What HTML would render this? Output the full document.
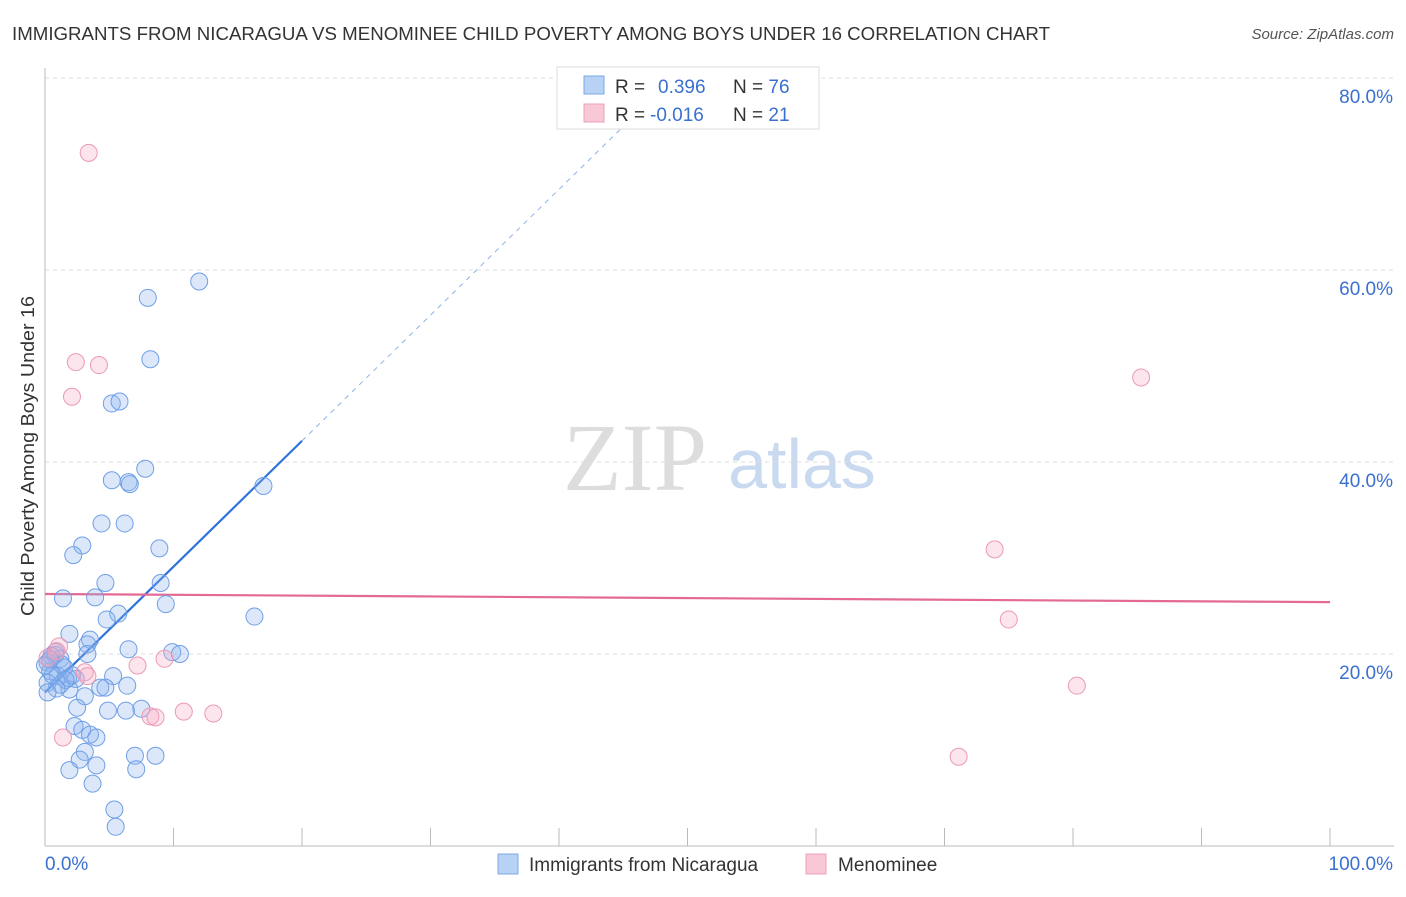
<!DOCTYPE html>
<html><head><meta charset="utf-8"><style>
body{margin:0;background:#fff;font-family:"Liberation Sans",sans-serif}
</style></head><body>
<svg id="chart" width="1406" height="892" xmlns="http://www.w3.org/2000/svg">
<text x="12" y="40" font-size="18" fill="#333" textLength="1038" lengthAdjust="spacingAndGlyphs">IMMIGRANTS FROM NICARAGUA VS MENOMINEE CHILD POVERTY AMONG BOYS UNDER 16 CORRELATION CHART</text>
<text x="1394" y="39" font-size="15" fill="#555" font-style="italic" text-anchor="end">Source: ZipAtlas.com</text>
<text x="34" y="456" font-size="18" fill="#333" text-anchor="middle" textLength="320" lengthAdjust="spacingAndGlyphs" transform="rotate(-90 34 456)">Child Poverty Among Boys Under 16</text>
<g>
<text x="635" y="490" font-size="96" fill="#ddd" font-family="Liberation Serif,serif" text-anchor="middle">ZIP</text>
<text x="802" y="488" font-size="70" fill="#c9daf0" text-anchor="middle">atlas</text>
</g>
<g id="grid"></g><g id="axes"></g><g id="lines"></g><g id="pts"></g>
<g>
<rect x="557" y="67" width="262" height="62" fill="#fff" stroke="#ddd"/>
<rect x="584" y="76" width="20" height="18" fill="#b8d2f5" stroke="#7aa8e8"/>
<rect x="584" y="104" width="20" height="18" fill="#f9c8d6" stroke="#eda0b7"/>
<text x="615" y="93" font-size="19" fill="#333">R = <tspan fill="#3a70d0" x="658">0.396</tspan><tspan fill="#333" x="733">N = </tspan><tspan fill="#3a70d0">76</tspan></text>
<text x="615" y="121" font-size="19" fill="#333">R = <tspan fill="#3a70d0" x="650">-0.016</tspan><tspan fill="#333" x="733">N = </tspan><tspan fill="#3a70d0"> 21</tspan></text>
</g>
<g>
<rect x="498" y="854" width="20" height="20" fill="#b8d2f5" stroke="#7aa8e8"/>
<text x="529" y="871" font-size="19" fill="#333">Immigrants from Nicaragua</text>
<rect x="806" y="854" width="20" height="20" fill="#f9c8d6" stroke="#eda0b7"/>
<text x="838" y="871" font-size="19" fill="#333">Menominee</text>
</g>
</svg>
<script>
const blueX=[12,8,8.2,5.2,5.8,7.8,5.2,6.5,6.6,17,4.4,6.2,2.9,8.9,2.2,4.7,9,1.4,3.9,9.4,5.7,4.8,16.3,1.9,3.5,3.3,6.5,9.9,10.5,3.3,0.8,0.5,1.2,0.2,1.5,0.4,5.3,1,1.8,2.4,1.2,0.2,4.3,4.7,6.4,1.9,3.1,2.5,4.9,6.3,7.5,2.3,2.9,3.5,4,3.1,7,8.6,2.7,4,1.9,7.1,3.7,5.4,5.5,0.8,1.3,0.4,0.6,2.1,1.6,0,0.9,0.2];
const blueY=[58.8,57.1,50.7,46.1,46.3,39.3,38.1,37.9,37.7,37.5,33.6,33.6,31.3,31,30.3,27.4,27.4,25.8,25.9,25.2,24.2,23.6,23.9,22.1,21.5,21,20.5,20.2,20,20,20.2,19.8,19.5,19.1,18.6,18.2,17.7,17.7,17.5,17.4,16.8,17,16.5,16.5,16.7,16.3,15.6,14.4,14.1,14.1,14.3,12.5,12.1,11.6,11.3,9.8,9.4,9.4,9,8.4,7.9,8,6.5,3.8,2,19.9,18.9,19.4,17.8,17.8,17.3,18.8,16.4,16];
const pinkX=[3.4,2.4,4.2,2.1,85.3,73.9,75,80.3,71.1,1.1,0.9,3.1,3.3,7.2,9.3,10.8,13.1,8.2,8.6,1.4,0.2];
const pinkY=[72.2,50.4,50.1,46.8,48.8,30.9,23.6,16.7,9.3,20.8,20.3,18.1,17.7,18.8,19.5,14.0,13.8,13.5,13.4,11.3,19.6];
const yTicks=[20,40,60,80];
const yTickLabels=["20.0%","40.0%","60.0%","80.0%"];
const xTicks=[0,10,20,30,40,50,60,70,80,90,100];
const blueLine=[16.0,1.31];
const pinkLine=[26.25,25.4];
const sx=v=>45+v*12.85, sy=v=>846-v*9.6;
const NS="http://www.w3.org/2000/svg";
function mk(p,tag,attrs){const e=document.createElementNS(NS,tag);for(const k in attrs)e.setAttribute(k,attrs[k]);p.appendChild(e);return e;}
const grid=document.getElementById('grid'),axes=document.getElementById('axes'),lines=document.getElementById('lines'),pts=document.getElementById('pts');
yTicks.forEach((t,i)=>{
 const l=mk(grid,'line',{x1:45,x2:1394,y1:sy(t),y2:sy(t),stroke:'#ddd','stroke-dasharray':'4 4'});
 
 
 const tx=mk(axes,'text',{x:1393,y:sy(t)+25,'font-size':19,fill:'#3a70d0','text-anchor':'end'});
 tx.textContent=yTickLabels[i];
 
 
});
const ax=mk(axes,'line',{x1:45,x2:1394,y1:846,y2:846,stroke:'#bbb'});


const ay=mk(axes,'line',{x1:45,x2:45,y1:68,y2:846,stroke:'#bbb'});


xTicks.forEach(t=>{const l=mk(axes,'line',{x1:sx(t),x2:sx(t),y1:828,y2:846,stroke:'#bbb'});
 
 });
const x0=mk(axes,'text',{x:45,y:870,'font-size':19,fill:'#3a70d0'});x0.textContent='0.0%';


const x1=mk(axes,'text',{x:1393,y:870,'font-size':19,fill:'#3a70d0','text-anchor':'end'});x1.textContent='100.0%';


blueX.forEach((x,i)=>{const c=mk(pts,'circle',{cx:sx(x),cy:sy(blueY[i]),r:8.5,fill:'rgba(140,180,240,0.3)',stroke:'#6f9fe6','stroke-width':1});
 
 });
pinkX.forEach((x,i)=>{const c=mk(pts,'circle',{cx:sx(x),cy:sy(pinkY[i]),r:8.5,fill:'rgba(245,170,195,0.3)',stroke:'#eb9ab4','stroke-width':1});
 
 });
const bf=x=>blueLine[0]+blueLine[1]*x;
const bl=mk(lines,'line',{x1:sx(0),y1:sy(bf(0)),x2:sx(20),y2:sy(bf(20)),stroke:'#2f72dc','stroke-width':2.2});


const xe=(80-blueLine[0])/blueLine[1];
const bd=mk(lines,'line',{x1:sx(20),y1:sy(bf(20)),x2:sx(xe),y2:sy(80),stroke:'#8fb2ea','stroke-width':1,'stroke-dasharray':'5 5'});


const pl=mk(lines,'line',{x1:sx(0),y1:sy(pinkLine[0]),x2:sx(100),y2:sy(pinkLine[1]),stroke:'#e46a93','stroke-width':2.2});


</script>
</body></html>
